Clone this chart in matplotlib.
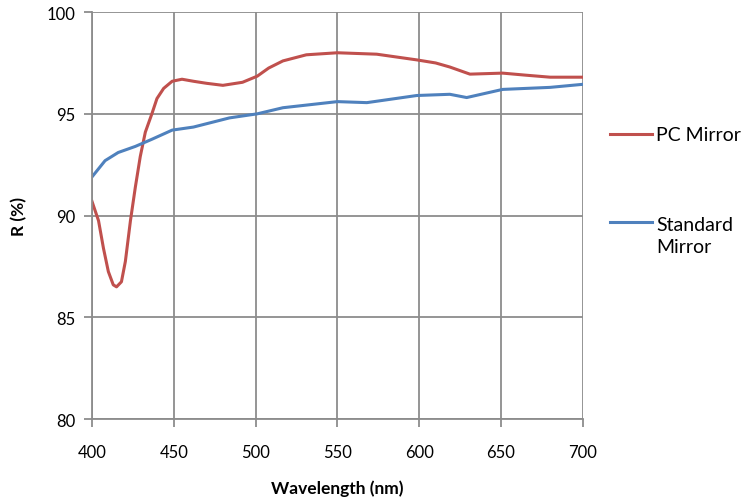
import matplotlib.pyplot as plt
from matplotlib.lines import Line2D

plt.rcParams['font.family'] = ['Lato', 'DejaVu Sans']

# PC Mirror reflectance
pc_wl = [400, 404, 407, 410, 413, 415, 418, 420.4, 423.5, 426.5, 429.5, 432.6, 436.6, 439.7,
         443.8, 449, 455, 462, 470, 480, 492, 501, 508, 516.7, 531, 550, 574, 598.5, 610,
         618.7, 631, 651, 665, 680, 700]
pc_r = [90.7, 89.75, 88.4, 87.25, 86.6, 86.5, 86.75, 87.75, 89.75, 91.4, 92.9, 94.1, 95.0, 95.75,
        96.25, 96.6, 96.7, 96.6, 96.5, 96.4, 96.55, 96.85, 97.25, 97.6, 97.9, 98.0, 97.93, 97.65,
        97.5, 97.3, 96.95, 97.0, 96.9, 96.8, 96.8]

# Standard Mirror reflectance
std_wl = [400, 408, 416, 426.5, 436.6, 449, 462, 484, 501, 516.7, 550, 568, 598.5, 618.7,
          629, 651, 680, 700]
std_r = [91.9, 92.7, 93.1, 93.4, 93.75, 94.2, 94.35, 94.8, 95.0, 95.3, 95.6, 95.55, 95.9, 95.96,
         95.8, 96.2, 96.3, 96.45]

red = '#C0504D'
blue = '#4F81BD'

fig = plt.figure(figsize=(7.54, 5.02), dpi=100)
ax = fig.add_axes([0.122, 0.163, 0.651, 0.811])

ax.plot(pc_wl, pc_r, color=red, lw=2.2)
ax.plot(std_wl, std_r, color=blue, lw=2.2)

ax.set_xlim(400, 700)
ax.set_ylim(80, 100)
ax.set_xticks(range(400, 701, 50))
ax.set_yticks(range(80, 101, 5))
ax.grid(True, color='#8c8c8c', lw=1.3)
ax.set_axisbelow(True)
for s in ['top', 'right']:
    ax.spines[s].set_visible(False)
for s in ['left', 'bottom']:
    ax.spines[s].set_color('#8c8c8c')
    ax.spines[s].set_linewidth(1.3)
ax.tick_params(colors='#8c8c8c', length=6, width=1.3, labelcolor='black', labelsize=12)
ax.tick_params(axis='x', pad=12)
ax.tick_params(axis='y', pad=6)

ax.set_xlabel('Wavelength (nm)', fontsize=12.5, fontweight='bold', labelpad=14)
ax.set_ylabel('R (%)', fontsize=12.5, fontweight='bold', labelpad=14)

# legend outside the plot, drawn by hand
fig.add_artist(Line2D([0.809, 0.865], [0.731, 0.731], color=red, lw=2.2))
fig.text(0.870, 0.731, 'PC Mirror', fontsize=14, va='center', ha='left')
fig.add_artist(Line2D([0.809, 0.865], [0.556, 0.556], color=blue, lw=2.2))
fig.text(0.870, 0.529, 'Standard\nMirror', fontsize=14, va='center', ha='left',
         linespacing=1.35)

fig.savefig('out.png', dpi=100)
